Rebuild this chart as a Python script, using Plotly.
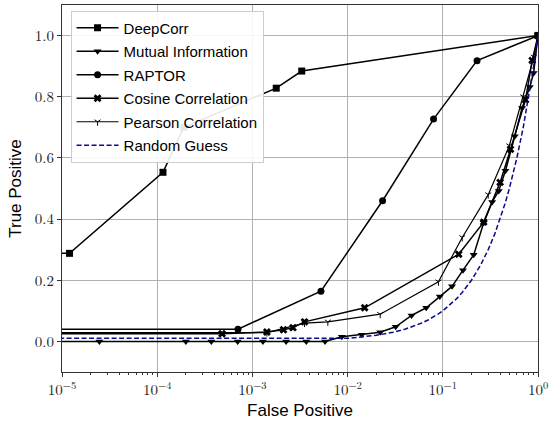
import plotly.graph_objects as go

# Receiver operating characteristic data (false positive rate vs true positive rate).
# A leading point at 1e-7 stands for a false positive rate of zero on the log axis.
deepcorr_fpr = [1e-7, 1.2e-5, 1.15e-4, 1.9e-4, 1.78e-3, 3.3e-3, 1.0]
deepcorr_tpr = [0.288, 0.288, 0.553, 0.70, 0.828, 0.884, 1.0]

mutual_fpr = [1e-7, 2.47e-5, 2.0e-4, 3.7e-4, 7.0e-4, 1.29e-3, 2.26e-3, 3.68e-3, 5.8e-3,
              8.7e-3, 1.41e-2, 2.2e-2, 3.2e-2, 4.7e-2, 6.7e-2, 9.3e-2, 0.125, 0.163,
              0.211, 0.269, 0.33, 0.387, 0.455, 0.57, 0.68, 0.82, 0.90, 1.0]
mutual_tpr = [0.0, 0.0, 0.0, 0.0, 0.0, 0.0, 0.0, 0.0, 0.0,
              0.015, 0.022, 0.030, 0.048, 0.085, 0.110, 0.147, 0.180, 0.233,
              0.283, 0.388, 0.456, 0.492, 0.558, 0.671, 0.763, 0.832, 0.878, 1.0]

raptor_fpr = [1e-7, 7.05e-4, 5.25e-3, 2.33e-2, 0.080, 0.229, 1.0]
raptor_tpr = [0.040, 0.040, 0.164, 0.460, 0.727, 0.918, 1.0]

cosine_fpr = [1e-7, 4.8e-4, 1.42e-3, 2.12e-3, 2.67e-3, 3.53e-3, 1.51e-2, 0.147, 0.269,
              0.40, 0.514, 0.74, 0.869, 1.0]
cosine_tpr = [0.025, 0.025, 0.031, 0.038, 0.045, 0.064, 0.110, 0.285, 0.390,
              0.52, 0.628, 0.790, 0.919, 1.0]

pearson_fpr = [1e-7, 1.42e-3, 3.53e-3, 6.2e-3, 2.2e-2, 9.0e-2, 0.16, 0.30, 0.50, 0.70,
               0.904, 1.0]
pearson_tpr = [0.029, 0.029, 0.060, 0.064, 0.089, 0.195, 0.34, 0.48, 0.64, 0.80,
               0.93, 1.0]

random_fpr = [1e-7, 0.01, 0.02, 0.03, 0.04, 0.05, 0.06, 0.07, 0.08, 0.09, 0.10, 0.12,
              0.14, 0.16, 0.18, 0.20, 0.25, 0.30, 0.35, 0.40, 0.45, 0.50, 0.60, 0.70,
              0.80, 0.90, 1.0]
random_tpr = [0.01, 0.01, 0.02, 0.03, 0.04, 0.05, 0.06, 0.07, 0.08, 0.09, 0.10, 0.12,
              0.14, 0.16, 0.18, 0.20, 0.25, 0.30, 0.35, 0.40, 0.45, 0.50, 0.60, 0.70,
              0.80, 0.90, 1.0]

x_tick_vals = [1e-5, 1e-4, 1e-3, 1e-2, 1e-1, 1e0]
x_tick_text = ["10<sup>\u22125</sup>", "10<sup>\u22124</sup>", "10<sup>\u22123</sup>",
               "10<sup>\u22122</sup>", "10<sup>\u22121</sup>", "10<sup>0</sup>"]
y_tick_vals = [0.0, 0.2, 0.4, 0.6, 0.8, 1.0]
y_tick_text = ["0.0", "0.2", "0.4", "0.6", "0.8", "1.0"]

SERIF = "Latin Modern Roman, DejaVu Serif, Liberation Serif, serif"
SANS = "Liberation Sans, Arial, sans-serif"

fig = go.Figure()

def add_curve(x, y, name, symbol, size, width=1.5, open_marker=False):
    marker = dict(symbol=symbol, size=size, color="black")
    if open_marker:
        marker["line"] = dict(color="black", width=1)
    fig.add_trace(go.Scatter(
        x=x, y=y, name=name, mode="lines+markers",
        line=dict(color="black", width=width),
        marker=marker, legendgroup=name,
    ))

add_curve(deepcorr_fpr, deepcorr_tpr, "DeepCorr", "square", 7)
add_curve(mutual_fpr, mutual_tpr, "Mutual Information", "triangle-down", 7)
add_curve(raptor_fpr, raptor_tpr, "RAPTOR", "circle", 7)
add_curve(cosine_fpr, cosine_tpr, "Cosine Correlation", "x", 7)
add_curve(pearson_fpr, pearson_tpr, "Pearson Correlation", "y-down", 5, width=1.2, open_marker=True)

fig.add_trace(go.Scatter(
    x=random_fpr, y=random_tpr, name="Random Guess", mode="lines",
    line=dict(color="#0a0a8c", width=1.5, dash="5px,2.5px"),
    legendgroup="Random Guess",
))

axis_common = dict(
    showline=True, linecolor="#333333", linewidth=1, mirror=True,
    ticks="outside", ticklen=4, tickwidth=1, tickcolor="#333333",
    showgrid=True, gridcolor="#b0b0b0", gridwidth=1,
    zeroline=False, tickfont=dict(family=SERIF, size=15, color="#222222"),
)

fig.update_layout(
    width=553, height=421,
    margin=dict(l=62, r=15, t=4, b=47),
    paper_bgcolor="white", plot_bgcolor="white",
    xaxis=dict(
        type="log", range=[-5, 0],
        tickvals=x_tick_vals, ticktext=x_tick_text,
        minor=dict(ticks="outside", ticklen=2, tickwidth=0.8, tickcolor="#333333",
                   dtick="D1", showgrid=False),
        title=dict(text="False Positive", font=dict(family=SANS, size=17, color="black"),
                   standoff=6),
        **axis_common,
    ),
    yaxis=dict(
        range=[-0.1, 1.1],
        tickvals=y_tick_vals, ticktext=y_tick_text,
        title=dict(text="True Positive", font=dict(family=SANS, size=17, color="black"),
                   standoff=8),
        **axis_common,
    ),
    legend=dict(
        x=0.018, y=0.985, xanchor="left", yanchor="top",
        bgcolor="rgba(255,255,255,0.9)", bordercolor="#cccccc", borderwidth=1,
        font=dict(family=SANS, size=15, color="black"),
        tracegroupgap=1, itemwidth=42,
    ),
    showlegend=True,
)

fig.write_html("out.html")
